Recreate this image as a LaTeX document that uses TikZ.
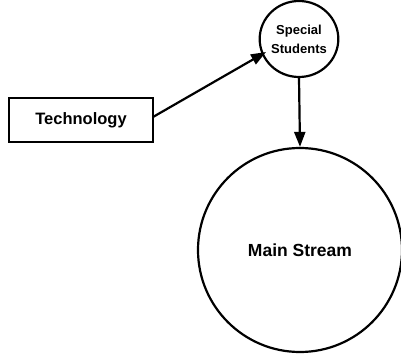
\documentclass[tikz,border=0pt]{standalone}
\usepackage{fontspec}
\setmainfont{Liberation Sans}
\usetikzlibrary{shapes.geometric,arrows.meta}
\begin{document}
\begin{tikzpicture}[x=1pt,y=-1pt,
  line width=2.2pt,
  conn/.style={-{Triangle[length=15pt,width=11pt]}, line width=2.2pt},
  boxnode/.style={draw, rectangle, minimum width=144pt, minimum height=44pt, inner sep=0pt, font=\bfseries\fontsize{16.5}{20}\selectfont},
  smallell/.style={draw, ellipse, minimum width=68pt, minimum height=76pt, inner sep=0pt, align=center, font=\bfseries\fontsize{13}{19}\selectfont},
  bigcirc/.style={draw, circle, minimum size=204pt, inner sep=0pt, font=\bfseries\fontsize{17.5}{20}\selectfont}]
\useasboundingbox (0,0) rectangle (401,355);
\node[boxnode] (tech) at (81,120) {Technology};
\node[smallell] (ss) at (299,39) {Special\\[0pt]Students};
\node[bigcirc] (ms) at (300,250) {Main Stream};
\coordinate (t1) at (153,117);
\coordinate (t2) at (266,52);
\draw[conn] (t1) -- (t2);
\draw[conn] (ss.south) -- (ms.north);
\end{tikzpicture}
\end{document}
